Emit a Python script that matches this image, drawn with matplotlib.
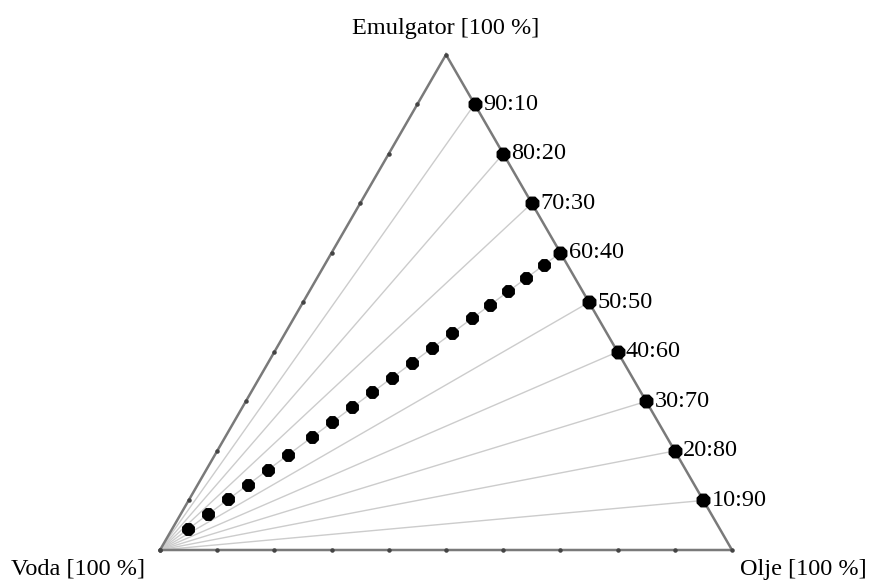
import numpy as np
import matplotlib.pyplot as plt

# Emulgator:Olje ratios along the right edge (no water)
ratio_labels = ["90:10", "80:20", "70:30", "60:40", "50:50", "40:60", "30:70", "20:80", "10:90"]
emulgator_share = [90, 80, 70, 60, 50, 40, 30, 20, 10]

# dilution series of the 60:40 mixture with water (% water)
water_pct = [93, 88, 83, 78, 73, 68, 62, 57, 52, 47, 42, 37, 32, 27, 22, 17.5, 13, 8.5, 4, 0]
series_ratio = (60, 40)

H = np.sqrt(3) / 2


def to_xy(voda, emul, olje):
    tot = voda + emul + olje
    e = np.asarray(emul) / tot
    o = np.asarray(olje) / tot
    return o + e / 2, e * H


fig = plt.figure(figsize=(8.69, 5.83), dpi=100)
ax = fig.add_axes([0, 0, 1, 1])
scale = 572.0
ax.set_xlim(-160 / scale, (869 - 160) / scale)
ax.set_ylim(-(583 - 550) / scale, 550 / scale)
ax.axis("off")

font = {"family": "Liberation Serif", "size": 17.5}

# rays from the water corner to each ratio point
for e in emulgator_share:
    x, y = to_xy(0, e, 100 - e)
    ax.plot([0, x], [0, y], color="#cccccc", lw=1.0, zorder=1)

# triangle frame
tri_x = [0, 1, 0.5, 0]
tri_y = [0, 0, H, 0]
ax.plot(tri_x, tri_y, color="#7a7a7a", lw=1.8, zorder=2, solid_joinstyle="miter")

# small tick dots on the left and bottom edges
t = np.linspace(0, 1, 11)
ax.scatter(t, np.zeros_like(t), s=5, color="#444444", zorder=3)
ax.scatter(t * 0.5, t * H, s=5, color="#444444", zorder=3)

# ratio points on the right edge
px, py = to_xy(0, np.array(emulgator_share, float), 100 - np.array(emulgator_share, float))
ax.scatter(px, py, s=95, color="black", marker="8", zorder=4)
for lab, x, y in zip(ratio_labels, px, py):
    ax.annotate(lab, (x, y), xytext=(6, 0), textcoords="offset points",
                ha="left", va="center", **font)

# water dilution series
w = np.array(water_pct, float)
rest = 100 - w
sx, sy = to_xy(w, rest * series_ratio[0] / 100, rest * series_ratio[1] / 100)
ax.scatter(sx, sy, s=80, color="black", marker="8", zorder=5)

# corner labels
ax.text(0.5, H + 26 / scale, "Emulgator [100 %]", ha="center", va="center", **font)
ax.text(-82 / scale, -19 / scale, "Voda [100 %]", ha="center", va="center", **font)
ax.text(1 + 71 / scale, -20 / scale, "Olje [100 %]", ha="center", va="center", **font)

fig.savefig("out.png", dpi=100)
